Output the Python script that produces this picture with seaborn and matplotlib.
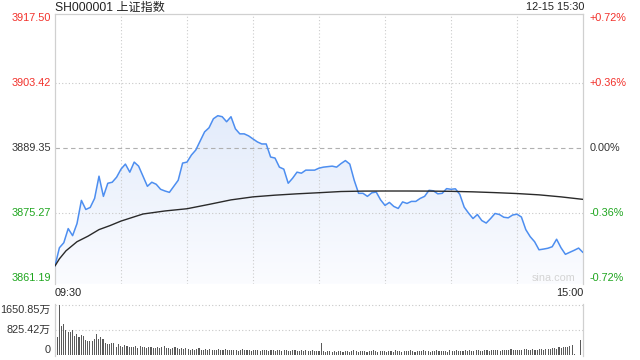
import numpy as np
import pandas as pd
import matplotlib
matplotlib.use('Agg')
import matplotlib.pyplot as plt
import seaborn as sns
from matplotlib.colors import LinearSegmentedColormap

# price sampled every 2 minutes of the trading session (0 = 09:30, 240 = 15:00)
minute = np.arange(0, 241, 2)
price = [3863.81, 3867.74, 3868.83, 3871.89, 3870.36, 3872.98, 3878.00, 3876.03, 3876.47, 3878.43,
         3883.24, 3878.87, 3881.71, 3881.93, 3883.02, 3884.77, 3885.86, 3884.11, 3886.29, 3885.42,
         3883.24, 3881.05, 3881.93, 3881.49, 3880.40, 3880.03, 3879.74, 3881.05, 3882.36, 3886.08,
         3886.29, 3887.82, 3888.91, 3890.88, 3892.84, 3893.72, 3895.68, 3896.34, 3896.12, 3895.03,
         3896.12, 3893.50, 3892.41, 3892.41, 3891.97, 3891.31, 3890.66, 3890.22, 3890.22, 3887.39,
         3887.17, 3885.20, 3884.77, 3881.71, 3882.80, 3884.11, 3883.89, 3884.55, 3884.55, 3884.55,
         3884.98, 3885.20, 3885.31, 3885.42, 3885.20, 3885.97, 3886.62, 3885.86, 3882.36, 3879.53,
         3879.53, 3878.87, 3879.64, 3879.81, 3878.11, 3876.91, 3877.56, 3876.69, 3876.25, 3877.67,
         3877.34, 3877.78, 3877.78, 3878.43, 3878.87, 3880.18, 3880.07, 3879.42, 3879.53, 3880.55,
         3880.40, 3880.51, 3879.31, 3876.54, 3875.23, 3874.07, 3874.94, 3873.63, 3873.09, 3874.07,
         3875.16, 3874.94, 3874.35, 3874.22, 3874.83, 3875.01, 3874.40, 3871.67, 3870.14, 3869.05,
         3867.30, 3867.45, 3867.63, 3867.96, 3869.59, 3867.74, 3866.32, 3866.76, 3867.19, 3867.67,
         3866.71]

avg_minute = [0, 2, 5, 10, 15, 20, 25, 30, 40, 50, 60, 70, 80, 90, 100, 110, 120,
              130, 140, 150, 160, 170, 180, 190, 200, 210, 220, 230, 240]
avg_price = [3863.81, 3865.34, 3867.08, 3869.05, 3870.25, 3871.67, 3872.54, 3873.52, 3875.05,
             3875.71, 3876.19, 3877.13, 3878.11, 3878.76, 3879.13, 3879.42, 3879.66, 3879.92,
             3880.01, 3880.03, 3880.03, 3880.01, 3879.96, 3879.85, 3879.68, 3879.48, 3879.20,
             3878.76, 3878.22]

# volume per minute, in 万
volume = [605, 1650, 970, 1030, 830, 750, 750, 810, 640, 700, 600, 670, 620, 490, 470, 470,
          470, 520, 690, 540, 590, 520, 390, 360,
          360, 380, 400, 280, 360, 300, 270, 330, 300, 250, 280, 260, 290, 240, 300, 270, 250, 230,
          260, 280, 240, 220, 250, 230, 270, 300, 240, 220, 210, 230, 250, 220, 200, 230, 210, 240,
          200, 180, 210, 170, 190, 220, 180, 160, 190, 170, 200, 180, 150, 170, 190, 160, 180, 200,
          170, 150, 160, 180, 170, 140, 160, 190, 170, 150, 160, 140, 170, 180, 150, 130, 160, 170,
          150, 140, 160, 150, 130, 150, 170, 140, 150, 160, 140, 130, 150, 170, 140, 130, 150, 140,
          160, 130, 140, 150, 130, 140, 120,
          385,
          140, 110, 120, 130, 110, 120, 100, 130, 120, 110, 140, 120, 110, 130, 150, 120, 110, 120,
          140, 130, 110, 120, 130, 150, 120, 110, 130, 120, 140, 110, 120, 130, 110, 150, 130, 120,
          110, 140, 120, 130, 150, 120, 110, 130, 120, 140, 160, 130, 120, 110, 140, 130, 150, 120,
          130, 140, 120, 110, 150, 130, 140, 160, 130, 120, 140, 150, 130, 160, 140, 130, 150, 170,
          140, 130, 160, 150, 140, 170,
          150, 170, 160, 140, 180, 160, 150, 170, 190, 160, 150, 180, 170, 160, 190, 200, 170, 160,
          190, 180, 170, 200, 190, 180, 210, 200, 190, 220, 240, 210, 250, 230, 260, 280, 250, 300,
          330,
          30, 0, 0, 485]

price_ticks = [3917.50, 3903.42, 3889.35, 3875.27, 3861.19]
price_labels = ['3917.50', '3903.42', '3889.35', '3875.27', '3861.19']
pct_labels = ['+0.72%', '+0.36%', '0.00%', '-0.36%', '-0.72%']
vol_ticks = [1650.85, 825.42, 0]
vol_labels = ['1650.85万', '825.42万', '0']
title = 'SH000001 上证指数'
stamp = '12-15 15:30'

RED = '#f2302a'
GREEN = '#1ea51e'
DARK = '#333333'
label_colors = [RED, RED, DARK, GREEN, GREEN]

sns.set_style('white')
plt.rcParams['font.family'] = ['Liberation Sans', 'Noto Sans CJK SC', 'DejaVu Sans']

fig = plt.figure(figsize=(6.4, 3.6), dpi=100)
W, H = 640, 360
ax = fig.add_axes([55 / W, 1 - 284 / H, 528 / W, 270 / H])
axv = fig.add_axes([55 / W, 1 - 356 / H, 528 / W, 52 / H])

ytop = 3917.50 + 4 * 0.2166
ybot = 3861.19 - 6 * 0.2166

df = pd.DataFrame({'minute': minute, 'price': price})
avg_df = pd.DataFrame({'minute': avg_minute, 'price': avg_price})

# gradient fill under the price line
poly = ax.fill_between(df['minute'], df['price'], ybot, color='none', lw=0)
cmap = LinearSegmentedColormap.from_list('fade', ['#fbfcff', '#d5e2f8'])
grad = np.linspace(0, 1, 256).reshape(-1, 1)
im = ax.imshow(grad, extent=[0, 240, ybot, ytop], aspect='auto', cmap=cmap,
               origin='lower', zorder=1)
im.set_clip_path(poly.get_paths()[0], transform=ax.transData)

sns.lineplot(data=df, x='minute', y='price', ax=ax, color='#4d8ef0', lw=1.1, zorder=3)
sns.lineplot(data=avg_df, x='minute', y='price', ax=ax, color='#2a2a2a', lw=1.0, zorder=4)

ax.set_xlim(0, 240)
ax.set_ylim(ybot, ytop)
ax.set_xlabel('')
ax.set_ylabel('')
ax.set_xticks([])
ax.set_yticks([])

for m in range(30, 240, 30):
    ax.axvline(m, color='#cccccc', lw=0.8, ls=(0, (1, 2)), zorder=2)
for v in [3903.42, 3875.27]:
    ax.axhline(v, color='#c8c8c8', lw=0.8, ls=(0, (1, 2)), zorder=2)
ax.axhline(3889.35, color='#b0b0b0', lw=0.8, ls=(0, (4, 3)), zorder=2)

for s in ['left', 'right', 'top']:
    ax.spines[s].set_color('#d0d0d0')
    ax.spines[s].set_linewidth(0.9)
ax.spines['bottom'].set_visible(False)

ytf = ax.get_yaxis_transform()
for v, lab, pct, c in zip(price_ticks, price_labels, pct_labels, label_colors):
    ax.text(-4 / 528, v, lab, transform=ytf, ha='right', va='center', fontsize=7.8, color=c)
    ax.text(1 + 7 / 528, v, pct, transform=ytf, ha='left', va='center', fontsize=7.8, color=c)

ax.text(1 - 8 / 528, 3861.19, 'sina.com', transform=ytf, ha='right', va='center',
        fontsize=7.8, color='#d4d4d4')

# volume bars, one category per minute
vdf = pd.DataFrame({'minute': np.arange(len(volume)), 'vol': volume})
sns.barplot(data=vdf, x='minute', y='vol', ax=axv, color='#5a5a5a',
            width=0.5, errorbar=None, saturation=1, linewidth=0, zorder=3)
for p in axv.patches:
    p.set_antialiased(False)
axv.set_xlim(-1, 241)
axv.set_ylim(-33, 1684)
axv.set_xlabel('')
axv.set_ylabel('')
axv.set_xticks([])
axv.set_yticks([])
for v in [1650.85, 825.42]:
    axv.axhline(v, color='#c8c8c8', lw=0.8, ls=(0, (1, 2)), zorder=1)
for s in ['top', 'bottom']:
    axv.spines[s].set_visible(False)
for s in ['left', 'right']:
    axv.spines[s].set_color('#d0d0d0')
    axv.spines[s].set_linewidth(0.9)

vtf = axv.get_yaxis_transform()
for v, lab, va in zip(vol_ticks, vol_labels, ['top', 'center', 'bottom']):
    axv.text(-4 / 528, v, lab, transform=vtf, ha='right', va=va, fontsize=7.8, color=DARK)

fig.text(55 / W, 1 - 7.5 / H, title, ha='left', va='center', fontsize=8.7, color='#222222')
fig.text(584 / W, 1 - 7.5 / H, stamp, ha='right', va='center', fontsize=7.8, color='#222222')
fig.text(55 / W, 1 - 293 / H, '09:30', ha='left', va='center', fontsize=7.8, color='#222222')
fig.text(583 / W, 1 - 293 / H, '15:00', ha='right', va='center', fontsize=7.8, color='#222222')

fig.savefig('out.png', dpi=100)
